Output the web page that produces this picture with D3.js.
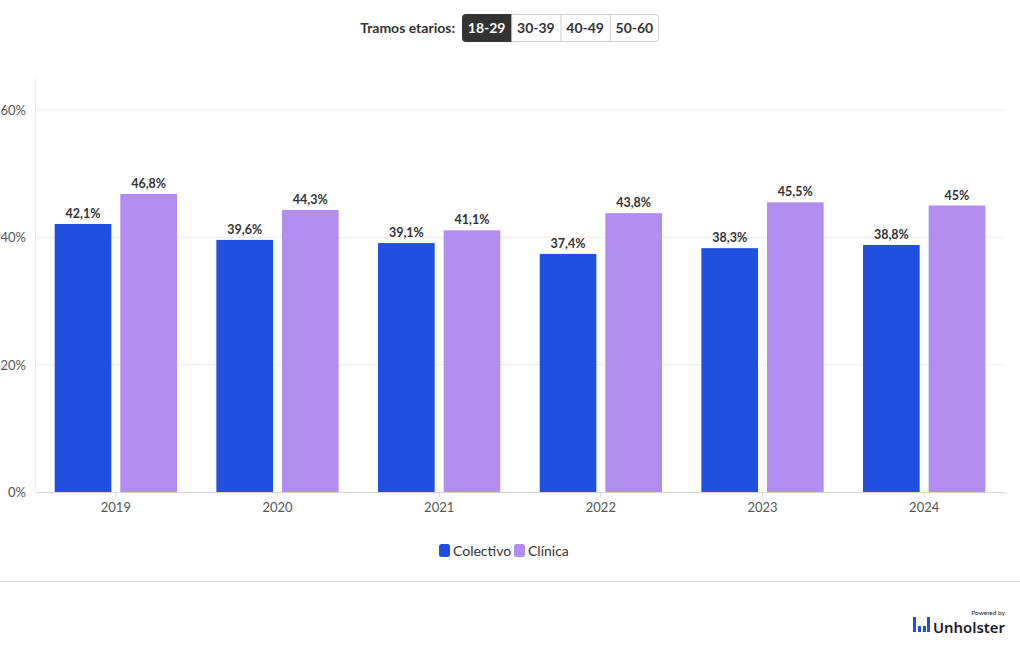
<!DOCTYPE html>
<html><head><meta charset="utf-8">
<script src="https://cdn.jsdelivr.net/npm/d3@7"></script>
<style>
body{margin:0;background:#fff;font-family:"Source Sans Pro",Lato,"Noto Sans",sans-serif;}
svg{display:block}
</style></head>
<body>
<svg id="c" width="1020" height="650"></svg>
<script>
const years = ["2019","2020","2021","2022","2023","2024"];
const seriesNames = ["Colectivo","Clínica"];
const colectivo = [42.1,39.6,39.1,37.4,38.3,38.8];
const clinica = [46.8,44.3,41.1,43.8,45.5,45.0];
const yTicks = [0,20,40,60];
const buttons = ["18-29","30-39","40-49","50-60"];
const colors = ["#2150E1","#B28CEF"];

const svg = d3.select("#c");
const font = 'Lato, "Noto Sans", sans-serif';
const m = {l:35, r:1005, t:78, b:492};
const x = d3.scaleBand().domain(years).range([m.l, m.r]).paddingInner(0).paddingOuter(0);
const xs = d3.scaleBand().domain(seriesNames).range([0, x.bandwidth()]).paddingInner(0.137).paddingOuter(0.3);
const y = d3.scaleLinear().domain([0,60]).range([m.b, 110]);

// grid
svg.append("g").selectAll("line").data(yTicks.filter(d=>d>0)).join("line")
  .attr("x1", m.l).attr("x2", m.r).attr("y1", d=>y(d)).attr("y2", d=>y(d))
  .attr("stroke","#ececec").attr("stroke-width",1);
svg.append("line").attr("x1",m.l+0.5).attr("x2",m.l+0.5).attr("y1",m.t).attr("y2",m.b)
  .attr("stroke","#ececec");

// y labels
svg.append("g").selectAll("text").data(yTicks).join("text")
  .attr("x", 26).attr("y", d=>y(d)+5).attr("text-anchor","end")
  .attr("font-family",font).attr("font-size",13).attr("fill","#555")
  .text(d=>d+"%");

// x axis
const xa = svg.append("g").attr("transform",`translate(0,${m.b})`)
  .call(d3.axisBottom(x).tickSize(5).tickPadding(6).tickSizeOuter(0));
xa.select(".domain").attr("stroke","#d6d6d6");
xa.selectAll(".tick line").attr("stroke","#d6d6d6");
xa.selectAll(".tick text").attr("font-family",font).attr("font-size",13).attr("fill","#555");

// bars
const data = years.map((yr,i)=>({yr, vals:[colectivo[i], clinica[i]]}));
const g = svg.append("g").selectAll("g").data(data).join("g")
  .attr("transform", d=>`translate(${x(d.yr)},0)`);
g.selectAll("rect").data(d=>d.vals.map((v,j)=>({v, s:seriesNames[j], j}))).join("rect")
  .attr("x", d=>xs(d.s)).attr("width", xs.bandwidth())
  .attr("y", d=>y(d.v)).attr("height", d=>m.b - y(d.v))
  .attr("fill", d=>colors[d.j]);
g.selectAll("text").data(d=>d.vals.map((v,j)=>({v, s:seriesNames[j], j}))).join("text")
  .attr("x", d=>xs(d.s)+xs.bandwidth()/2).attr("y", d=>y(d.v)-6)
  .attr("text-anchor","middle").attr("font-family",font).attr("font-weight","bold")
  .attr("font-size",12.5).attr("fill","#333")
  .text(d=>String(d.v % 1 === 0 ? d.v.toFixed(0) : d.v.toFixed(1)).replace(".",",")+"%");

// legend
const lg = svg.append("g").attr("transform","translate(439,544)");
const legX = [0, 75];
seriesNames.forEach((s,i)=>{
  lg.append("rect").attr("x",legX[i]).attr("y",0).attr("width",11).attr("height",13).attr("rx",2.5).attr("fill",colors[i]);
  lg.append("text").attr("x",legX[i]+14).attr("y",11.5).attr("font-family",font).attr("font-size",14).attr("fill","#333").text(s);
});

// separator
svg.append("line").attr("x1",0).attr("x2",1020).attr("y1",581.5).attr("y2",581.5).attr("stroke","#d9d9d9");

// buttons header
svg.append("text").attr("x",455).attr("y",33).attr("text-anchor","end")
  .attr("font-family",font).attr("font-weight","bold").attr("font-size",14).attr("fill","#333")
  .text("Tramos etarios:");
const bx = d3.scaleBand().domain(buttons).range([462,659]);
const bg = svg.append("g");
bg.append("rect").attr("x",462.5).attr("y",14.5).attr("width",196).attr("height",27).attr("rx",3)
  .attr("fill","#fff").attr("stroke","#d0d0d0");
buttons.forEach((b,i)=>{
  if(i===0){
    bg.append("path").attr("d",`M${bx(b)+3.5},14.5 H${bx(b)+bx.bandwidth()} V41.5 H${bx(b)+3.5} Q${bx(b)+0.5},41.5 ${bx(b)+0.5},38.5 V17.5 Q${bx(b)+0.5},14.5 ${bx(b)+3.5},14.5 Z`)
      .attr("fill","#333").attr("stroke","#333");
  } else {
    bg.append("line").attr("x1",bx(b)+0.5).attr("x2",bx(b)+0.5).attr("y1",14.5).attr("y2",41.5).attr("stroke","#d0d0d0");
  }
  bg.append("text").attr("x",bx(b)+bx.bandwidth()/2).attr("y",33).attr("text-anchor","middle")
    .attr("font-family",font).attr("font-weight","bold").attr("font-size",14)
    .attr("fill", i===0?"#fff":"#333").text(b);
});

// logo
const lo = svg.append("g").attr("transform","translate(913,614)");
lo.append("rect").attr("x",0).attr("y",3).attr("width",3).attr("height",15).attr("fill","#2150E1");
lo.append("rect").attr("x",5).attr("y",12).attr("width",3).attr("height",6).attr("fill","#2150E1");
lo.append("rect").attr("x",10).attr("y",12).attr("width",3).attr("height",6).attr("fill","#2150E1");
lo.append("rect").attr("x",14).attr("y",3).attr("width",3).attr("height",15).attr("fill","#2150E1");
lo.append("text").attr("x",92).attr("y",1).attr("text-anchor","end").attr("font-family",font).attr("font-size",6.5).attr("fill","#222").text("Powered by");
lo.append("text").attr("x",20).attr("y",18.5).attr("font-family",'"Noto Sans",sans-serif').attr("font-weight","600").attr("font-size",14)
  .attr("textLength",72).attr("lengthAdjust","spacingAndGlyphs").attr("fill","#1b1b2a").text("Unholster");
</script>
</body></html>
